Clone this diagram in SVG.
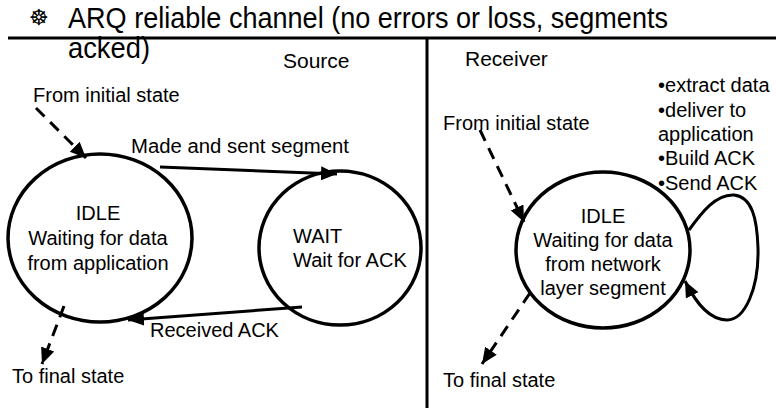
<svg xmlns="http://www.w3.org/2000/svg" width="776" height="408" viewBox="0 0 776 408">
<style>
text{font-family:"Liberation Sans",Arial,sans-serif;fill:#000}
.lbl{font-size:20px}
.hd{font-size:21px}
.ttl{font-size:30px}
.mid{text-anchor:middle}
.st{fill:#fff;stroke:#000;stroke-width:3.5}
.edge{fill:none;stroke:#000;stroke-width:3}
.dash{fill:none;stroke:#000;stroke-width:3;stroke-dasharray:12 8}
.rule{stroke:#000;stroke-width:3}
</style>
<defs>
<marker id="ah" markerUnits="userSpaceOnUse" markerWidth="18" markerHeight="16" refX="16" refY="7" orient="auto">
<path d="M0,0 L16,7 L0,14 z" fill="#000"/>
</marker>
</defs>
<rect width="776" height="408" fill="#fff"/>
<g id="title">
<text x="29" y="25" style="font-family:'DejaVu Sans',sans-serif;font-size:22px">☸</text>
<text class="ttl" x="68" y="28" textLength="600" lengthAdjust="spacingAndGlyphs">ARQ reliable channel (no errors or loss, segments</text>
<text class="ttl" x="68" y="58" textLength="82" lengthAdjust="spacingAndGlyphs">acked)</text>
</g>
<g id="frame">
<line class="rule" x1="8" y1="38" x2="776" y2="38"/>
<line class="rule" x1="427" y1="38" x2="427" y2="408"/>
<text class="hd" x="283" y="68">Source</text>
<text class="hd" x="465" y="66">Receiver</text>
</g>
<g id="src-idle">
<ellipse class="st" cx="100" cy="238" rx="92" ry="84"/>
<text class="lbl mid" x="98" y="220">IDLE</text>
<text class="lbl mid" x="98" y="245">Waiting for data</text>
<text class="lbl mid" x="98" y="270">from application</text>
</g>
<g id="src-wait">
<ellipse class="st" cx="340" cy="248" rx="81" ry="77"/>
<text class="lbl" x="293" y="243">WAIT</text>
<text class="lbl" x="293" y="267">Wait for ACK</text>
</g>
<g id="rcv-idle">
<ellipse class="st" cx="603" cy="250" rx="87" ry="78"/>
<text class="lbl mid" x="603" y="223">IDLE</text>
<text class="lbl mid" x="603" y="247">Waiting for data</text>
<text class="lbl mid" x="603" y="271">from network</text>
<text class="lbl mid" x="603" y="295">layer segment</text>
</g>
<g id="connectors">
<line class="dash" x1="36" y1="108" x2="86" y2="158" marker-end="url(#ah)"/>
<line class="edge" x1="160" y1="167" x2="337" y2="174" marker-end="url(#ah)"/>
<line class="edge" x1="302" y1="307" x2="128" y2="320" marker-end="url(#ah)"/>
<line class="dash" x1="64" y1="306" x2="42" y2="364" marker-end="url(#ah)"/>
<line class="dash" x1="480" y1="130" x2="524" y2="222" marker-end="url(#ah)"/>
<line class="dash" x1="530" y1="293" x2="482" y2="364" marker-end="url(#ah)"/>
<path class="edge" d="M689,230 C702,212 716,194 734,195 C752,197 757,218 758,248 C759,288 745,320 727,320 C710,320 697,305 685,281" marker-end="url(#ah)"/>
</g>
<g id="labels">
<text class="lbl" x="33" y="102">From initial state</text>
<text class="lbl" x="131" y="153" textLength="218" lengthAdjust="spacingAndGlyphs">Made and sent segment</text>
<text class="lbl" x="150" y="337">Received ACK</text>
<text class="lbl" x="12" y="383">To final state</text>
<text class="lbl" x="443" y="130">From initial state</text>
<text class="lbl" x="443" y="387">To final state</text>
<text class="lbl" x="658" y="92">•extract data</text>
<text class="lbl" x="658" y="117">•deliver to</text>
<text class="lbl" x="658" y="141">application</text>
<text class="lbl" x="658" y="165">•Build ACK</text>
<text class="lbl" x="658" y="190">•Send ACK</text>
</g>
</svg>
